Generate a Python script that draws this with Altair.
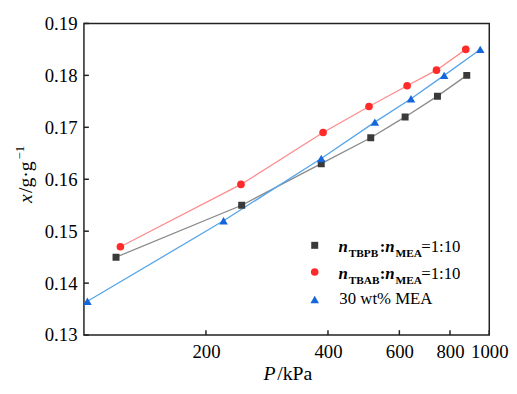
import altair as alt
import pandas as pd

# ---- data ----
P_tbpb = [120, 245, 385, 510, 620, 745, 880]
x_tbpb = [0.145, 0.155, 0.163, 0.168, 0.172, 0.176, 0.180]
P_tbab = [123, 244, 389, 505, 627, 741, 875]
x_tbab = [0.147, 0.159, 0.169, 0.174, 0.178, 0.181, 0.185]
P_mea = [102, 221, 385, 522, 641, 774, 950]
x_mea = [0.1365, 0.152, 0.164, 0.171, 0.1755, 0.180, 0.185]

x_ticks = [200, 400, 600, 800, 1000]
y_ticks = [0.13, 0.14, 0.15, 0.16, 0.17, 0.18, 0.19]

FONT = "Liberation Serif, Tinos, DejaVu Serif, serif"
W, H = 411, 316

xscale = alt.Scale(type="log", domain=[100, 1000], nice=False)
yscale = alt.Scale(domain=[0.13, 0.19], nice=False, zero=False)

xaxis = alt.Axis(values=x_ticks, format="d", title=None, grid=False, ticks=False,
                 tickSize=0, domain=False, labelFont=FONT, labelFontSize=19,
                 labelColor="black", labelPadding=8, labelFlush=False, labelOverlap=False)
yaxis = alt.Axis(values=y_ticks, format=".2f", title=None, grid=False, ticks=False,
                 tickSize=0, domain=False, labelFont=FONT, labelFontSize=19,
                 labelColor="black", labelPadding=7, labelOverlap=False)


def series_layers(P, X, line_color, point_color, shape, size):
    df = pd.DataFrame({"P": P, "x": X})
    base = alt.Chart(df)
    line = base.mark_line(color=line_color, strokeWidth=1.3, clip=True).encode(
        x=alt.X("P:Q", scale=xscale, axis=xaxis),
        y=alt.Y("x:Q", scale=yscale, axis=yaxis),
    )
    pts = base.mark_point(shape=shape, filled=True, color=point_color, opacity=1,
                          size=size, clip=True).encode(
        x=alt.X("P:Q", scale=xscale, axis=xaxis),
        y=alt.Y("x:Q", scale=yscale, axis=yaxis),
    )
    return line, pts


l1, p1 = series_layers(P_tbpb, x_tbpb, "#8a8a8a", "#3a3a3a", "square", 50)
l2, p2 = series_layers(P_tbab, x_tbab, "#ff8c8c", "#ff2a2a", "circle", 60)
l3, p3 = series_layers(P_mea, x_mea, "#55a5ea", "#1566dc", "triangle-up", 75)

# inward ticks
xt = alt.Chart(pd.DataFrame({"P": x_ticks})).mark_rule(color="#222", strokeWidth=1.5).encode(
    x=alt.X("P:Q", scale=xscale, axis=xaxis), y=alt.value(H), y2=alt.value(H - 5))
yt = alt.Chart(pd.DataFrame({"x": y_ticks})).mark_rule(color="#222", strokeWidth=1.5).encode(
    y=alt.Y("x:Q", scale=yscale, axis=yaxis), x=alt.value(0), x2=alt.value(5))

one = pd.DataFrame({"d": [0]})


def txt(s, x, y, size, style="normal", weight="normal", angle=0):
    return alt.Chart(one).mark_text(text=s, font=FONT, fontSize=size, fontStyle=style,
                                    fontWeight=weight, align="left", baseline="alphabetic",
                                    angle=angle, color="black").encode(
        x=alt.value(x), y=alt.value(y))


def sym(shape, color, size, x, y):
    return alt.Chart(one).mark_point(shape=shape, filled=True, color=color, opacity=1,
                                     size=size).encode(x=alt.value(x), y=alt.value(y))


legend = [
    sym("square", "#3a3a3a", 50, 234, 225),
    sym("circle", "#ff2a2a", 60, 234, 252),
    sym("triangle-up", "#1566dc", 75, 234, 280),
]
for lab, yb in (("TBPB", 232), ("TBAB", 259)):
    legend += [
        txt("n", 258, yb, 17, "italic", "bold"),
        txt(lab, 268.5, yb + 5, 11.5, "normal", "bold"),
        txt(":", 300, yb, 17, "normal", "bold"),
        txt("n", 305.5, yb, 17, "italic", "bold"),
        txt("MEA", 316, yb + 5, 11.5, "normal", "bold"),
        txt("=1:10", 342, yb, 17),
    ]
legend.append(txt("30 wt% MEA", 259, 285, 17))

titles = [
    txt("P", 182, 362, 20, "italic"),
    txt("/kPa", 196, 362, 20),
    txt("x", -53, 182, 20, "italic", angle=270),
    txt("/g·g", -53, 172, 20, angle=270),
    txt("−1", -61, 138, 13, angle=270),
]

chart = alt.layer(l1, l2, l3, xt, yt, p1, p2, p3, *legend, *titles).properties(
    width=W, height=H,
    autosize=alt.AutoSizeParams(type="none"),
    padding={"left": 77, "top": 13, "right": 20, "bottom": 49},
    background="white",
).configure_view(stroke="#222", strokeWidth=1.5)

chart.save("out.html", embed_options={"renderer": "svg", "actions": False})
